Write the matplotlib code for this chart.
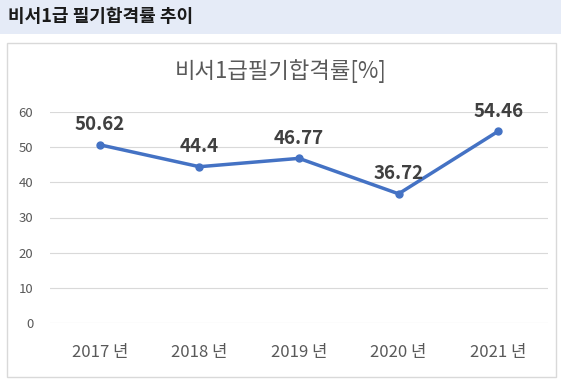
import matplotlib
matplotlib.use("Agg")
import matplotlib.pyplot as plt
from matplotlib.patches import Rectangle

plt.rcParams['font.family'] = ['Noto Sans CJK KR', 'DejaVu Sans']

years = ["2017 년", "2018 년", "2019 년", "2020 년", "2021 년"]
pass_rate = [50.62, 44.4, 46.77, 36.72, 54.46]
value_labels = ["50.62", "44.4", "46.77", "36.72", "54.46"]
y_ticks = [0, 10, 20, 30, 40, 50, 60]

W, H = 561, 381
fig = plt.figure(figsize=(W / 100, H / 100), dpi=100)
fig.patch.set_facecolor("white")

# header band
fig.patches.append(Rectangle((0, (H - 33.5) / H), 1, 33.5 / H, transform=fig.transFigure,
                             facecolor="#E5EBF7", edgecolor="none", zorder=-2))
fig.text(8 / W, (H - 16.5) / H, "비서1급 필기합격률 추이", fontsize=13, fontweight="bold",
         color="#1A1A1A", ha="left", va="center")

# chart box
fig.patches.append(Rectangle((6.5 / W, (H - 377) / H), 549 / W, (377 - 42.5) / H,
                             transform=fig.transFigure, facecolor="white",
                             edgecolor="#D9D9D9", linewidth=1.0, zorder=-2))

fig.text(281 / W, (H - 71) / H, "비서1급필기합격률[%]", fontsize=16, color="#595959",
         ha="center", va="center")

ax = fig.add_axes([50 / W, (H - 323.3) / H, 498 / W, (323.3 - 111.7) / H])
ax.set_facecolor("none")
ax.set_zorder(2)
x = list(range(len(years)))
ax.plot(x, pass_rate, color="#4472C4", linewidth=2.5, marker="o", markersize=5, zorder=3)
for xi, yi, lab in zip(x, pass_rate, value_labels):
    ax.annotate(lab, (xi, yi), xytext=(0, 14.5), textcoords="offset points",
                ha="center", va="center", fontsize=13.5, fontweight="bold", color="#404040")

ax.set_xlim(-0.5, len(years) - 0.5)
ax.set_ylim(0, 60)
ax.set_yticks(y_ticks)
ax.set_xticks(x)
ax.set_xticklabels(years)
ax.grid(axis="y", color="#D9D9D9", linewidth=0.8)
ax.set_axisbelow(True)
for s in ax.spines.values():
    s.set_visible(False)
ax.tick_params(axis="both", length=0, colors="#595959")
ax.tick_params(axis="y", labelsize=9.5, pad=12)
ax.tick_params(axis="x", labelsize=12, pad=15)

fig.savefig("out.png", dpi=100)
